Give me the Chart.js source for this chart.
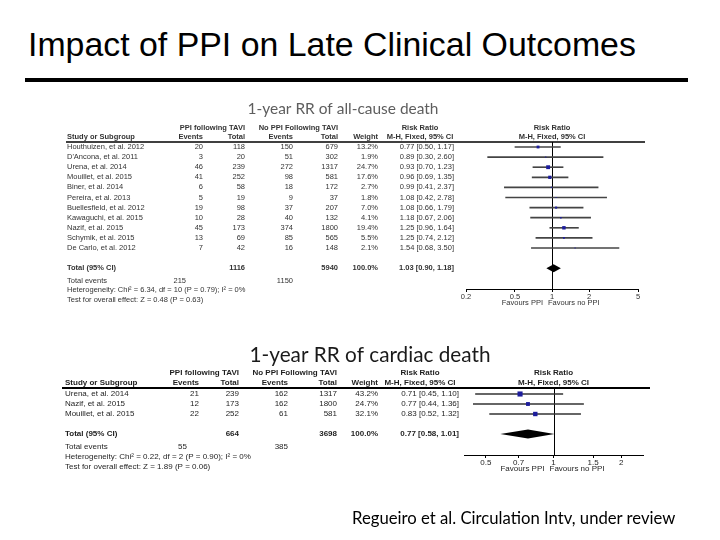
<!DOCTYPE html>
<html lang="en">
<head>
<meta charset="UTF-8">
<title>Impact of PPI on Late Clinical Outcomes</title>
<style>
  body { margin: 0; background: #fff; }
  #slide { position: relative; width: 720px; height: 540px; overflow: hidden; }
  #slide canvas { position: absolute; left: 0; top: 0; }
  .heading {
    position: absolute; left: 28px; top: 24px; margin: 0;
    font-family: "Liberation Sans", Arial, sans-serif; font-weight: normal;
    font-size: 31px; line-height: 40px; color: #000; white-space: nowrap;
  }
  .rule { position: absolute; left: 25px; top: 78px; width: 663px; height: 4px; background: #000; }
  .cite {
    position: absolute; left: 352px; top: 508px;
    font-family: Lato, "Open Sans", sans-serif; font-size: 16px; line-height: 20px;
    color: #000; white-space: nowrap;
  }
</style>
</head>
<body>
<div id="slide">
  <h1 class="heading" data-w="608">Impact of PPI on Late Clinical Outcomes</h1>
  <div class="rule"></div>
  <canvas id="allcause" width="720" height="540"></canvas>
  <canvas id="cardiac" width="720" height="540"></canvas>
  <div class="cite" data-w="324">Regueiro et al. Circulation Intv, under review</div>
</div>

<script src="https://cdn.jsdelivr.net/npm/chart.js"></script>
<script>
// 1-year all-cause death
const deathStudies = ['Houthuizen, et al. 2012', "D'Ancona, et al. 2011", 'Urena, et al. 2014',
  'Mouillet, et al. 2015', 'Biner, et al. 2014', 'Pereira, et al. 2013', 'Buellesfield, et al. 2012',
  'Kawaguchi, et al. 2015', 'Nazif, et al. 2015', 'Schymik, et al. 2015', 'De Carlo, et al. 2012'];
const deathPpiEvents = [20, 3, 46, 41, 6, 5, 19, 10, 45, 13, 7];
const deathPpiTotal = [118, 20, 239, 252, 58, 19, 98, 28, 173, 69, 42];
const deathNoEvents = [150, 51, 272, 98, 18, 9, 37, 40, 374, 85, 16];
const deathNoTotal = [679, 302, 1317, 581, 172, 37, 207, 132, 1800, 565, 148];
const deathWeight = [13.2, 1.9, 24.7, 17.6, 2.7, 1.8, 7.0, 4.1, 19.4, 5.5, 2.1];
const deathRR = [0.77, 0.89, 0.93, 0.96, 0.99, 1.08, 1.08, 1.18, 1.25, 1.25, 1.54];
const deathLow = [0.50, 0.30, 0.70, 0.69, 0.41, 0.42, 0.66, 0.67, 0.96, 0.74, 0.68];
const deathHigh = [1.17, 2.60, 1.23, 1.35, 2.37, 2.78, 1.79, 2.06, 1.64, 2.12, 3.50];
const deathPooled = [1.03, 0.90, 1.18];          // RR, low, high
const deathTotals = [215, 1116, 1150, 5940];      // PPI events, PPI total, no-PPI events, no-PPI total
const deathHet = 'Heterogeneity: Chi² = 6.34, df = 10 (P = 0.79); I² = 0%';
const deathTest = 'Test for overall effect: Z = 0.48 (P = 0.63)';
const deathTicks = [0.2, 0.5, 1, 2, 5];

// 1-year cardiac death
const cardiacStudies = ['Urena, et al. 2014', 'Nazif, et al. 2015', 'Mouillet, et al. 2015'];
const cardiacPpiEvents = [21, 12, 22];
const cardiacPpiTotal = [239, 173, 252];
const cardiacNoEvents = [162, 162, 61];
const cardiacNoTotal = [1317, 1800, 581];
const cardiacWeight = [43.2, 24.7, 32.1];
const cardiacRR = [0.71, 0.77, 0.83];
const cardiacLow = [0.45, 0.44, 0.52];
const cardiacHigh = [1.10, 1.36, 1.32];
const cardiacPooled = [0.77, 0.58, 1.01];
const cardiacTotals = [55, 664, 385, 3698];
const cardiacHet = 'Heterogeneity: Chi² = 0.22, df = 2 (P = 0.90); I² = 0%';
const cardiacTest = 'Test for overall effect: Z = 1.89 (P = 0.06)';
const cardiacTicks = [0.5, 0.7, 1, 1.5, 2];

const FONT = '"Liberation Sans", Arial, sans-serif';

// scale html text so it covers the same width as in the slide
document.querySelectorAll('[data-w]').forEach(el => {
  const c = document.createElement('canvas').getContext('2d');
  const cs = getComputedStyle(el);
  c.font = '100px ' + cs.fontFamily;
  const w = c.measureText(el.textContent).width;
  el.style.fontSize = (100 * el.dataset.w / w).toFixed(2) + 'px';
});

function ciText(rr, lo, hi) {
  return `${rr.toFixed(2)} [${lo.toFixed(2)}, ${hi.toFixed(2)}]`;
}

function forestPlugin(D, L) {
  return {
    id: 'forest',
    beforeDatasetsDraw(chart) {
      const {ctx, chartArea: a, scales: {x, y}} = chart;
      ctx.save();
      ctx.strokeStyle = '#000';
      ctx.lineWidth = L.ruleWidth;
      ctx.beginPath();
      ctx.moveTo(L.ruleLeft, a.top);
      ctx.lineTo(L.ruleRight, a.top);
      ctx.stroke();
      // line of no effect
      const x1 = Math.round(x.getPixelForValue(1)) + 0.5;
      ctx.lineWidth = 1;
      ctx.beginPath();
      ctx.moveTo(x1, a.top);
      ctx.lineTo(x1, a.bottom);
      ctx.stroke();
      // pooled estimate
      const yd = y.getPixelForValue(D.studies.length + 2);
      ctx.fillStyle = '#000';
      ctx.beginPath();
      ctx.moveTo(x.getPixelForValue(D.pooled[1]), yd);
      ctx.lineTo(x.getPixelForValue(D.pooled[0]), yd - L.diamondH);
      ctx.lineTo(x.getPixelForValue(D.pooled[2]), yd);
      ctx.lineTo(x.getPixelForValue(D.pooled[0]), yd + L.diamondH);
      ctx.closePath();
      ctx.fill();
      ctx.restore();
    },
    afterDraw(chart) {
      const {ctx, chartArea: a, scales: {x, y}} = chart;
      const c = L.cols;
      const font = b => `${b ? 'bold ' : ''}${L.fontSize}px ${FONT}`;
      const put = (s, px, row, align, bold) => {
        ctx.font = font(bold);
        ctx.textAlign = align;
        ctx.fillText(s, px, y.getPixelForValue(row));
      };
      ctx.save();
      ctx.textBaseline = 'middle';

      ctx.font = '100px Lato, sans-serif';
      const tw = ctx.measureText(L.title).width;
      ctx.font = `${(100 * L.titleW / tw).toFixed(2)}px Lato, sans-serif`;
      ctx.fillStyle = L.titleColor;
      ctx.textAlign = 'center';
      ctx.fillText(L.title, L.titleX, L.titleY);

      ctx.fillStyle = L.textColor;
      const [h1, h2] = L.headRows;
      const mid = (a.left + a.right) / 2;
      put('PPI following TAVI', c.ppiTot, h1, 'right', true);
      put('No PPI Following TAVI', c.noTot, h1, 'right', true);
      put('Risk Ratio', c.rrHead, h1, 'center', true);
      put('Risk Ratio', mid, h1, 'center', true);
      put('Study or Subgroup', c.study, h2, 'left', true);
      put('Events', c.ppiEv, h2, 'right', true);
      put('Total', c.ppiTot, h2, 'right', true);
      put('Events', c.noEv, h2, 'right', true);
      put('Total', c.noTot, h2, 'right', true);
      put('Weight', c.weight, h2, 'right', true);
      put('M-H, Fixed, 95% CI', c.rrHead, h2, 'center', true);
      put('M-H, Fixed, 95% CI', mid, h2, 'center', true);

      D.studies.forEach((s, i) => {
        const r = i + 1;
        put(s, c.study, r, 'left');
        put(String(D.ppiEvents[i]), c.ppiEv, r, 'right');
        put(String(D.ppiTotal[i]), c.ppiTot, r, 'right');
        put(String(D.noEvents[i]), c.noEv, r, 'right');
        put(String(D.noTotal[i]), c.noTot, r, 'right');
        put(D.weight[i].toFixed(1) + '%', c.weight, r, 'right');
        put(ciText(D.rr[i], D.low[i], D.high[i]), c.rr, r, 'right');
      });

      const n = D.studies.length;
      put('Total (95% CI)', c.study, n + 2, 'left', true);
      put(String(D.totals[1]), c.ppiTot, n + 2, 'right', true);
      put(String(D.totals[3]), c.noTot, n + 2, 'right', true);
      put('100.0%', c.weight, n + 2, 'right', true);
      put(ciText(...D.pooled), c.rr, n + 2, 'right', true);
      const [fe, fh, ft] = L.foot.map(f => n + f);
      put('Total events', c.study, fe, 'left');
      put(String(D.totals[0]), c.evTotal, fe, 'right');
      put(String(D.totals[2]), c.noEv, fe, 'right');
      put(D.het, c.study, fh, 'left');
      put(D.test, c.study, ft, 'left');

      const x1 = x.getPixelForValue(1);
      const fy = a.bottom + 14;
      ctx.font = font(false);
      ctx.textAlign = 'right';
      ctx.fillText('Favours PPI', x1 - 9, fy);
      ctx.textAlign = 'left';
      ctx.fillText('Favours no PPI', x1 - 4, fy);
      ctx.restore();
    }
  };
}

function makeForest(id, D, L) {
  const n = D.studies.length;
  const rows = D.studies.map((s, i) => i + 1);
  const yMin = 1 - (L.firstRow - L.top) / L.rowH;
  const yMax = 1 + (L.bottom - L.firstRow) / L.rowH;
  const axisH = 20;
  return new Chart(document.getElementById(id), {
    type: 'scatter',
    data: {
      datasets: [{
        type: 'scatter',
        data: rows.map((r, i) => ({x: D.rr[i], y: r})),
        pointStyle: 'rect',
        pointRadius: D.weight.map(w => 0.55 * Math.sqrt(w)),
        backgroundColor: '#1c1c9c',
        borderWidth: 0
      }, {
        type: 'bar',
        indexAxis: 'y',
        data: rows.map((r, i) => ({x: [D.low[i], D.high[i]], y: r})),
        backgroundColor: L.ciColor,
        borderWidth: 0,
        barThickness: 1
      }]
    },
    options: {
      responsive: false,
      devicePixelRatio: 1,
      animation: false,
      events: [],
      layout: {padding: {left: L.left, right: 720 - L.right, top: L.top, bottom: 540 - L.bottom - axisH}},
      plugins: {legend: {display: false}, tooltip: {enabled: false}},
      scales: {
        x: {
          type: 'logarithmic',
          min: D.ticks[0] === 0.2 ? 0.2 : L.xMin,
          max: L.xMax,
          offset: false,
          afterBuildTicks: s => { s.ticks = D.ticks.map(v => ({value: v})); },
          afterFit: s => { s.height = axisH; },
          ticks: {
            callback: v => String(v),
            autoSkip: false, maxRotation: 0, padding: 0,
            color: L.textColor,
            font: {family: FONT, size: L.fontSize}
          },
          grid: {display: true, drawOnChartArea: false, drawTicks: true, tickLength: 3, color: '#000'},
          border: {display: true, color: '#000', width: 1}
        },
        y: {
          type: 'linear', display: false, reverse: true, offset: false,
          min: yMin, max: yMax
        }
      }
    },
    plugins: [forestPlugin(D, L)]
  });
}

makeForest('allcause', {
  studies: deathStudies, ppiEvents: deathPpiEvents, ppiTotal: deathPpiTotal,
  noEvents: deathNoEvents, noTotal: deathNoTotal, weight: deathWeight,
  rr: deathRR, low: deathLow, high: deathHigh, pooled: deathPooled,
  totals: deathTotals, het: deathHet, test: deathTest, ticks: deathTicks
}, {
  left: 466, right: 638, top: 142, bottom: 289, firstRow: 147, rowH: 10.1,
  xMin: 0.2, xMax: 5,
  headRows: [-0.9, 0], foot: [3.3, 4.2, 5.1],
  fontSize: 7.5, textColor: '#333', ciColor: '#444', diamondH: 4,
  ruleLeft: 66, ruleRight: 645, ruleWidth: 1.5,
  title: '1-year RR of all-cause death', titleX: 343, titleY: 109, titleW: 191, titleColor: '#5e5e5e',
  cols: {study: 67, ppiEv: 203, ppiTot: 245, noEv: 293, noTot: 338, weight: 378, rr: 454, rrHead: 420, evTotal: 186}
});

makeForest('cardiac', {
  studies: cardiacStudies, ppiEvents: cardiacPpiEvents, ppiTotal: cardiacPpiTotal,
  noEvents: cardiacNoEvents, noTotal: cardiacNoTotal, weight: cardiacWeight,
  rr: cardiacRR, low: cardiacLow, high: cardiacHigh, pooled: cardiacPooled,
  totals: cardiacTotals, het: cardiacHet, test: cardiacTest, ticks: cardiacTicks
}, {
  left: 464, right: 643, top: 388, bottom: 455, firstRow: 394, rowH: 10,
  xMin: 0.4, xMax: 2.5,
  headRows: [-1.1, -0.1], foot: [3.3, 4.3, 5.3],
  fontSize: 8, textColor: '#1e1e1e', ciColor: '#333', diamondH: 4.5,
  ruleLeft: 62, ruleRight: 650, ruleWidth: 2,
  title: '1-year RR of cardiac death', titleX: 370, titleY: 355, titleW: 241, titleColor: '#1a1a1a',
  cols: {study: 65, ppiEv: 199, ppiTot: 239, noEv: 288, noTot: 337, weight: 378, rr: 459, rrHead: 420, evTotal: 187}
});
</script>
</body>
</html>
